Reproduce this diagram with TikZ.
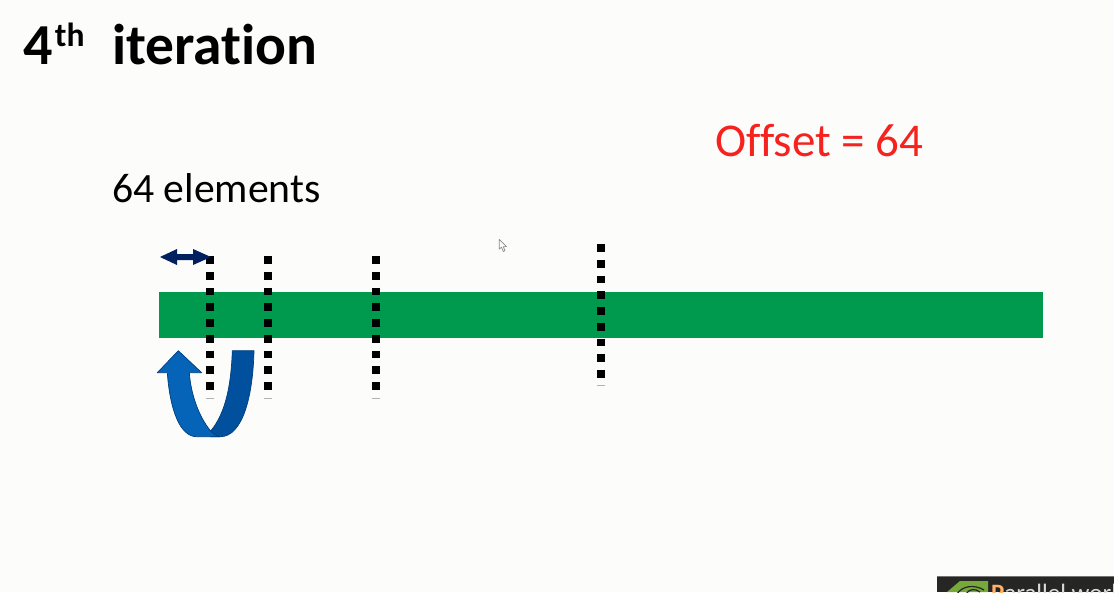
\documentclass[tikz,border=0pt]{standalone}
\usepackage{fontspec}
\setmainfont[Ligatures=NoCommon]{Carlito}
\usepackage{tikz}
\usetikzlibrary{positioning}
\definecolor{slidebg}{HTML}{FCFCFA}
\definecolor{bargreen}{HTML}{009A4E}
\definecolor{navy}{HTML}{002060}
\definecolor{turnlight}{HTML}{0563B8}
\definecolor{turndark}{HTML}{00509E}
\definecolor{turnline}{HTML}{003E7E}
\definecolor{offsetred}{HTML}{F5221E}
\definecolor{logobar}{HTML}{262624}
\definecolor{logogreen}{HTML}{76A83A}
\begin{document}
\begin{tikzpicture}[x=1pt, y=-1pt,
    every node/.style={inner sep=0pt, outer sep=0pt},
    label/.style={anchor=base west},
    marker/.style={draw=black, line width=7.7pt, dash pattern=on 7.7pt off 8.05pt},
    stub/.style={draw=black!30, line width=0.8pt},
    turn/.style={draw=turnline, line width=0.7pt, line join=round}]

    \path[use as bounding box, fill=slidebg] (0,0) rectangle (1114,592);

    \node[label, font=\bfseries\fontsize{58}{58}\selectfont] (nr) at (23.5,64) {4\hspace{2pt}\raisebox{17.5pt}{\fontsize{33.5}{33.5}\selectfont th}};
    \node[label, font=\bfseries\fontsize{57.5}{57.5}\selectfont] (title) at (112.5,64) {iteration};
    \node[label, font=\fontsize{41.7}{41.7}\selectfont, text=black] (elements) at (112,202.5) {64 elements};
    \node[label, font=\fontsize{47}{47}\selectfont, text=offsetred] (offset) at (715,156.5) {Offset = 64};

    \node[fill=bargreen, minimum width=884pt, minimum height=46pt] (bar) at (600.5,315) {};

    \coordinate (m1a) at (210.3,256.2);
    \coordinate (m1b) at (210.3,390);
    \coordinate (m2a) at (268.3,256.2);
    \coordinate (m2b) at (268.3,390);
    \coordinate (m3a) at (376.3,256.2);
    \coordinate (m3b) at (376.3,390);
    \coordinate (m4a) at (601,244.2);
    \coordinate (m4b) at (601,378);
    \foreach \m in {m1,m2,m3,m4}
        \draw[marker] (\m a) -- (\m b);

    \coordinate (s1a) at (206,398.3);
    \coordinate (s1b) at (214,398.3);
    \coordinate (s2a) at (264,398.3);
    \coordinate (s2b) at (272,398.3);
    \coordinate (s3a) at (372,398.3);
    \coordinate (s3b) at (380,398.3);
    \coordinate (s4a) at (597,385.5);
    \coordinate (s4b) at (605,385.5);
    \foreach \s in {s1,s2,s3,s4}
        \draw[stub] (\s a) -- (\s b);

    \fill[navy] (160,257) -- (177,249) -- (177,254) -- (193,254) -- (193,249)
        -- (211,257) -- (193,265) -- (193,260) -- (177,260) -- (177,265) -- cycle;

    \draw[turn, fill=turndark] (232.3,350.7) -- (254,350.7)
        .. controls (253,395) and (243,437) .. (220,436.7)
        -- (210.7,436.7) -- (210.7,431)
        .. controls (224,415) and (231,390) .. (232.3,350.7) -- cycle;
    \draw[turn, fill=turnlight] (178.3,350.7) -- (201.7,372.7) -- (189.3,372.7)
        .. controls (191,395) and (199,417) .. (210.7,431)
        .. controls (214,435) and (217,436) .. (220,436.7)
        -- (196.7,436.7)
        .. controls (180,436.7) and (170,410) .. (167.3,372.7)
        -- (157.3,372.7) -- cycle;

    \draw[draw=black!45, fill=slidebg, line width=0.7pt, line join=round] (499.3,239.5) -- (499.3,249) -- (501.5,247.2) -- (503.3,251.5)
        -- (505,250.7) -- (503.3,246.8) -- (506.5,246.5) -- cycle;

    \begin{scope}
        \clip (937,576) rectangle (1114,592);
        \fill[logobar] (937,576) rectangle (1114,592);
        \fill[black!55] (937,576) rectangle (1114,576.7);
        \fill[logogreen] (947,592) -- (960,581) -- (988,581) -- (988,592) -- cycle;
        \draw[logobar, line width=1.2pt] (957,594) .. controls (962,586) and (974,584) .. (984,590);
        \draw[logobar, line width=1.2pt] (966,594) .. controls (969,589) and (975,588) .. (980,592);
        \node[label, font=\fontsize{25}{25}\selectfont, text=white!85!black] (brand) at (991,601.5) {{\bfseries\color{orange!60!white}P}arallel world};
    \end{scope}
\end{tikzpicture}
\end{document}
